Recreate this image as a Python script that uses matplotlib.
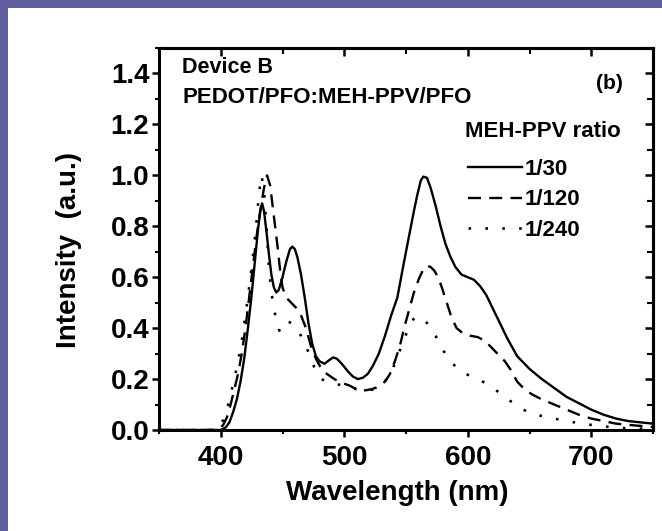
import matplotlib
matplotlib.use('Agg')
import matplotlib.pyplot as plt
from matplotlib.patches import Rectangle
from matplotlib.ticker import MultipleLocator

plt.rcParams['font.family'] = ['Liberation Sans', 'DejaVu Sans']
plt.rcParams['font.weight'] = 'bold'

# ---- data ----
wl_30 = [350, 380, 400, 404, 407, 410, 413, 416, 419, 422,
         425, 428, 430, 432, 433.5, 435, 437, 439, 441, 443,
         445, 447, 450, 453, 456, 458, 460, 462, 465, 468,
         471, 474, 477, 480, 484, 488, 491, 494, 498, 503,
         507, 511, 515, 519, 523, 528, 533, 538, 543, 548,
         552, 556, 559, 562, 564, 567, 570, 574, 578, 582,
         586, 590, 595, 600, 605, 610, 615, 620, 626, 632,
         640, 650, 660, 670, 680, 690, 700, 710, 720, 730,
         740, 750]
int_30 = [0, 0, 0, 0.01, 0.03, 0.07, 0.12, 0.19, 0.28, 0.40,
          0.53, 0.68, 0.78, 0.86, 0.89, 0.86, 0.78, 0.69, 0.61, 0.56,
          0.54, 0.55, 0.60, 0.66, 0.71, 0.72, 0.71, 0.68, 0.61, 0.52,
          0.42, 0.34, 0.29, 0.27, 0.26, 0.275, 0.285, 0.28, 0.26, 0.23,
          0.21, 0.20, 0.205, 0.22, 0.25, 0.30, 0.37, 0.45, 0.52, 0.65,
          0.75, 0.85, 0.92, 0.98, 0.995, 0.99, 0.95, 0.88, 0.80, 0.73,
          0.68, 0.64, 0.61, 0.60, 0.59, 0.565, 0.53, 0.48, 0.42, 0.36,
          0.29, 0.24, 0.20, 0.165, 0.13, 0.105, 0.08, 0.06, 0.045, 0.035,
          0.03, 0.025]

wl_120 = [350, 380, 398, 402, 405, 408, 411, 414, 417, 420,
          423, 426, 429, 432, 435, 437.5, 440, 442, 444, 446,
          448, 450, 453, 457, 461, 465, 469, 473, 477, 481,
          486, 492, 498, 504, 510, 516, 522, 528, 533, 537,
          541, 545, 549, 553, 557, 561, 564, 567, 570, 573,
          576, 579, 583, 587, 591, 596, 602, 608, 614, 620,
          625, 630, 635, 640, 646, 652, 660, 670, 680, 690,
          700, 710, 720, 735, 750]
int_120 = [0, 0, 0, 0.02, 0.05, 0.10, 0.16, 0.22, 0.30, 0.40,
           0.52, 0.64, 0.76, 0.86, 0.95, 1.0, 0.96, 0.88, 0.80, 0.72,
           0.63, 0.56, 0.52, 0.50, 0.48, 0.45, 0.40, 0.33, 0.28, 0.245,
           0.22, 0.20, 0.185, 0.175, 0.16, 0.155, 0.16, 0.17, 0.19, 0.22,
           0.27, 0.33, 0.41, 0.48, 0.55, 0.60, 0.63, 0.645, 0.64, 0.625,
           0.60, 0.56, 0.50, 0.44, 0.40, 0.38, 0.37, 0.365, 0.35, 0.32,
           0.295, 0.27, 0.235, 0.19, 0.16, 0.14, 0.12, 0.10, 0.08, 0.06,
           0.045, 0.035, 0.025, 0.018, 0.012]

wl_240 = [350, 380, 396, 399, 402, 405, 408, 411, 414, 417,
          420, 423, 426, 429, 431, 433, 435, 437, 439, 441,
          443, 445, 447.5, 450, 453, 457, 461, 465, 469, 473,
          477, 481, 487, 494, 502, 510, 518, 525, 531, 536,
          540, 544, 548, 552, 555, 558, 561, 564, 567, 570,
          574, 578, 583, 588, 593, 598, 604, 610, 616, 622,
          627, 633, 638, 645, 651, 660, 668, 680, 690, 700,
          710, 725, 750]
int_240 = [0, 0, 0, 0.01, 0.04, 0.08, 0.14, 0.20, 0.27, 0.35,
           0.45, 0.56, 0.68, 0.82, 0.93, 1.0, 0.94, 0.80, 0.64, 0.54,
           0.48, 0.43, 0.39, 0.41, 0.43, 0.42, 0.40, 0.37, 0.33, 0.28,
           0.23, 0.20, 0.19, 0.18, 0.17, 0.16, 0.155, 0.16, 0.18, 0.21,
           0.25, 0.30, 0.35, 0.40, 0.43, 0.445, 0.445, 0.435, 0.42, 0.40,
           0.37, 0.33, 0.29, 0.26, 0.235, 0.22, 0.21, 0.195, 0.18, 0.16,
           0.14, 0.12, 0.10, 0.08, 0.065, 0.055, 0.047, 0.035, 0.027, 0.02,
           0.014, 0.008, 0.004]

labels = ['1/30', '1/120', '1/240']
x_ticks = [400, 500, 600, 700]
y_ticks = [0.0, 0.2, 0.4, 0.6, 0.8, 1.0, 1.2, 1.4]

# ---- figure ----
W, H = 662, 531
fig = plt.figure(figsize=(W / 100, H / 100), dpi=100)
fig.patch.set_facecolor('#6060a0')
fig.add_artist(Rectangle((8 / W, 0), (W - 8) / W, (H - 8) / H,
                         transform=fig.transFigure, facecolor='white',
                         edgecolor='none', zorder=-10))

L, R, T, B = 159, 653, 48, 430
ax = fig.add_axes([L / W, 1 - B / H, (R - L) / W, (B - T) / H])
ax.set_facecolor('white')


def fx(px):
    return (px - L) / (R - L)


def fy(py):
    return (B - py) / (B - T)


lw = 1.7
ax.plot(wl_30, int_30, color='black', lw=lw, ls='-', label=labels[0])
ax.plot(wl_120, int_120, color='black', lw=lw, ls=(0, (5.5, 3.5)), label=labels[1])
ax.plot(wl_240, int_240, color='black', lw=lw * 1.1, ls=(0, (1, 5.5)), label=labels[2])

ax.set_xlim(350, 750)
ax.set_ylim(0, 1.5)
ax.set_xticks(x_ticks)
ax.set_yticks(y_ticks)
ax.set_yticklabels([f'{v:.1f}' for v in y_ticks])
ax.xaxis.set_minor_locator(MultipleLocator(50))
ax.yaxis.set_minor_locator(MultipleLocator(0.1))

for s in ax.spines.values():
    s.set_linewidth(2.2)

ax.tick_params(which='major', direction='out', length=5, width=1.8,
               labelsize=20, pad=2)
ax.tick_params(which='minor', direction='out', length=3, width=1.5)
ax.tick_params(axis='x', which='major', pad=6)

# mirrored inward ticks on top and right
sx = ax.secondary_xaxis('top')
sx.set_xticks(x_ticks)
sx.xaxis.set_minor_locator(MultipleLocator(50))
sx.tick_params(which='major', direction='in', length=6, width=1.8, labeltop=False)
sx.tick_params(which='minor', direction='in', length=4, width=1.5)
sx.spines['top'].set_linewidth(2.2)
sy = ax.secondary_yaxis('right')
sy.set_yticks(y_ticks)
sy.yaxis.set_minor_locator(MultipleLocator(0.1))
sy.tick_params(which='major', direction='in', length=6, width=1.8, labelright=False)
sy.tick_params(which='minor', direction='in', length=4, width=1.5)
sy.spines['right'].set_linewidth(2.2)

ax.set_xlabel('Wavelength (nm)', fontsize=20, fontweight='bold')
ax.xaxis.label.set_va('center')
ax.xaxis.set_label_coords(fx(397), fy(493))
ax.set_ylabel('Intensity  (a.u.)', fontsize=20, fontweight='bold')
ax.yaxis.label.set_va('center')
ax.yaxis.set_label_coords(fx(69), fy(250))

ax.text(fx(182), fy(67), 'Device B', transform=ax.transAxes,
        fontsize=15.5, fontweight='bold', ha='left', va='center')
ax.text(fx(182), fy(97), 'PEDOT/PFO:MEH-PPV/PFO',
        transform=ax.transAxes, fontsize=16, fontweight='bold', ha='left', va='center')
ax.text(fx(623), fy(83), '(b)', transform=ax.transAxes,
        fontsize=15, fontweight='bold', ha='right', va='center')
ax.text(fx(465), fy(131), 'MEH-PPV ratio', transform=ax.transAxes,
        fontsize=16, fontweight='bold', ha='left', va='center')

leg = ax.legend(loc='center left', bbox_to_anchor=(fx(468), fy(200)),
                frameon=False, fontsize=16,
                handlelength=2.45, handletextpad=0.1, labelspacing=0.42,
                borderpad=0, borderaxespad=0)
for t in leg.get_texts():
    t.set_fontweight('bold')

fig.savefig('out.png', dpi=100, facecolor=fig.get_facecolor())
